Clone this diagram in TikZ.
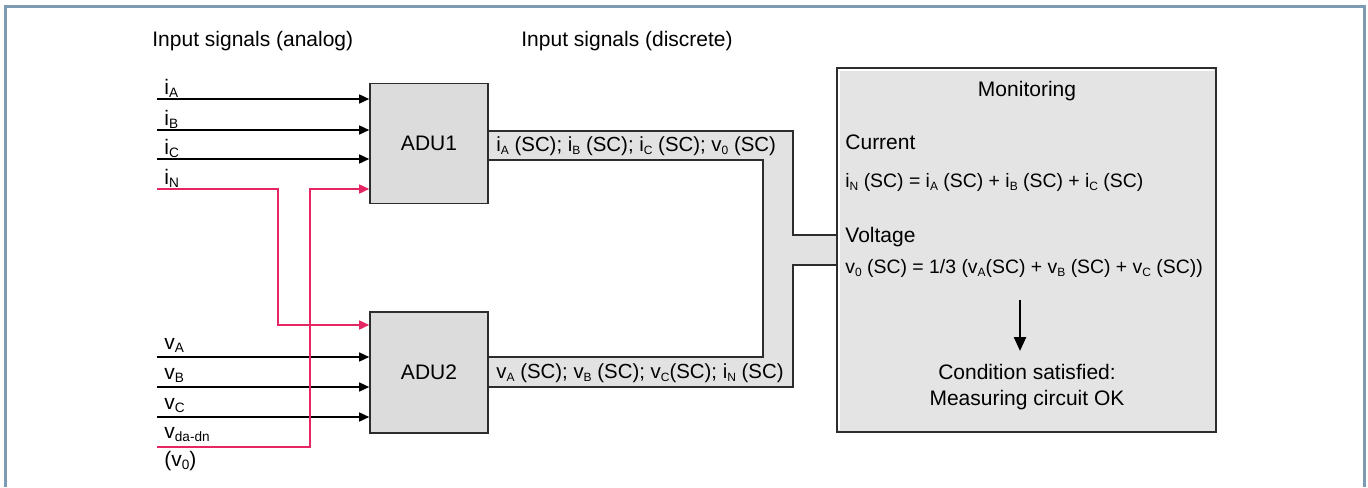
\documentclass[tikz,border=0pt]{standalone}
\usepackage{fontspec}
\setmainfont{Liberation Sans}
\usetikzlibrary{arrows.meta}
\definecolor{frameblue}{RGB}{125,155,178}
\definecolor{sigred}{RGB}{228,38,98}
\definecolor{boxgray}{RGB}{220,220,220}
\definecolor{busgray}{RGB}{226,226,226}
\definecolor{mongray}{RGB}{228,228,228}
\definecolor{edge}{RGB}{45,45,45}
\newcommand{\sbs}[1]{\raisebox{-0.35ex}{\fontsize{6.8pt}{7pt}\selectfont #1}}
\newcommand{\fsb}[1]{\raisebox{-0.3ex}{\fontsize{6pt}{7pt}\selectfont #1}}
\tikzset{
  txt/.style={inner sep=0pt, font=\fontsize{10.5pt}{12.6pt}\selectfont},
  btxt/.style={inner sep=0pt, font=\fontsize{10.2pt}{12.6pt}\selectfont},
  ftxt/.style={inner sep=0pt, font=\fontsize{9.7pt}{12pt}\selectfont},
  blk/.style={draw=edge, line width=0.8pt, fill=boxgray, inner sep=0pt},
  arr/.style={line width=0.75pt, -{Triangle[length=5pt,width=4.5pt]}},
  redarr/.style={sigred, line width=0.8pt, -{Triangle[length=5pt,width=4.5pt]}},
}
\begin{document}
\begin{tikzpicture}[x=0.5pt,y=-0.5pt]
\useasboundingbox (0,0) rectangle (1368,487);
% frame
\draw[frameblue, line width=1.5pt] (5.5,487) -- (5.5,6) -- (1364.5,6) -- (1364.5,487);

% headers
\node[txt, anchor=base west] (h1) at (152,46) {Input signals (analog)};
\node[txt, anchor=base west] (h2) at (521,46) {Input signals (discrete)};

% bus channel
\filldraw[fill=busgray, draw=edge, line width=0.6pt]
  (488,131) -- (793,131) -- (793,235) -- (837,235) -- (837,265) -- (793,265)
  -- (793,387) -- (488,387) -- (488,357) -- (763,357) -- (763,160) -- (488,160) -- cycle;

% boxes
\node[blk, minimum width=59pt, minimum height=60pt] (adu1) at (429,143.5) {};
\node[blk, minimum width=59pt, minimum height=60.5pt] (adu2) at (429,372.5) {};
\node[blk, fill=mongray, minimum width=189.5pt, minimum height=182pt] (mon) at (1026.5,250) {};
\draw[white, line width=0.8pt] ([shift={(3,-3)}]mon.south west) -- ([shift={(3,3)}]mon.north west) -- ([shift={(-3,3)}]mon.north east);

\node[txt] (l1) at (adu1.center) {ADU1};
\node[txt] (l2) at (adu2.center) {ADU2};

% bus labels
\node[btxt, anchor=base west] (b1) at (496,151) {i\fsb{A} (SC); i\fsb{B} (SC); i\fsb{C} (SC); v\fsb{0} (SC)};
\node[btxt, anchor=base west] (b2) at (496,378) {v\fsb{A} (SC); v\fsb{B} (SC); v\fsb{C}(SC); i\fsb{N} (SC)};

% input coordinates
\coordinate (ia) at (157,99);
\coordinate (ib) at (157,130);
\coordinate (ic) at (157,159);
\coordinate (in) at (157,189);
\coordinate (va) at (157,357);
\coordinate (vb) at (157,387);
\coordinate (vc) at (157,417);
\coordinate (vd) at (157,447);

\draw[arr] (ia) -- (ia -| adu1.west);
\draw[arr] (ib) -- (ib -| adu1.west);
\draw[arr] (ic) -- (ic -| adu1.west);
\draw[arr] (va) -- (va -| adu2.west);
\draw[arr] (vb) -- (vb -| adu2.west);
\draw[arr] (vc) -- (vc -| adu2.west);

% red crossing lines
\coordinate (rn1) at (278,189);
\coordinate (rn2) at (278,325);
\coordinate (rd1) at (310,447);
\coordinate (rd2) at (310,189);
\draw[redarr] (in) -- (rn1) -- (rn2) -- (rn2 -| adu2.west);
\draw[redarr] (vd) -- (rd1) -- (rd2) -- (rd2 -| adu1.west);

% input labels
\node[txt, anchor=base west] (tia) at (164,94) {i\sbs{A}};
\node[txt, anchor=base west] (tib) at (164,125) {i\sbs{B}};
\node[txt, anchor=base west] (tic) at (164,154) {i\sbs{C}};
\node[txt, anchor=base west] (tin) at (164,184) {i\sbs{N}};
\node[txt, anchor=base west] (tva) at (164,349) {v\sbs{A}};
\node[txt, anchor=base west] (tvb) at (164,379) {v\sbs{B}};
\node[txt, anchor=base west] (tvc) at (164,409) {v\sbs{C}};
\node[txt, anchor=base west] (tvd) at (164,438) {v\sbs{da-dn}};
\node[txt, anchor=base west] (tv0) at (164,466) {(v\sbs{0})};

% monitoring content
\node[txt] (mt) at (1027,91) {Monitoring};
\node[txt, anchor=base west] (cur) at (845,149) {Current};
\node[ftxt, anchor=base west] (cf) at (845,187) {i\fsb{N} (SC) = i\fsb{A} (SC) + i\fsb{B} (SC) + i\fsb{C} (SC)};
\node[txt, anchor=base west] (vol) at (845,242) {Voltage};
\node[ftxt, anchor=base west] (vf) at (845,273) {v\fsb{0} (SC) = 1/3 (v\fsb{A}(SC) + v\fsb{B} (SC) + v\fsb{C} (SC))};
\node[txt, align=center] (ok) at (1027,387) {Condition satisfied:\\Measuring circuit OK};
\coordinate (ar1) at (1020,300);
\coordinate (ar2) at (1020,351);
\draw[line width=1.2pt, -{Triangle[length=7pt,width=6pt]}] (ar1) -- (ar2);
\end{tikzpicture}
\end{document}
